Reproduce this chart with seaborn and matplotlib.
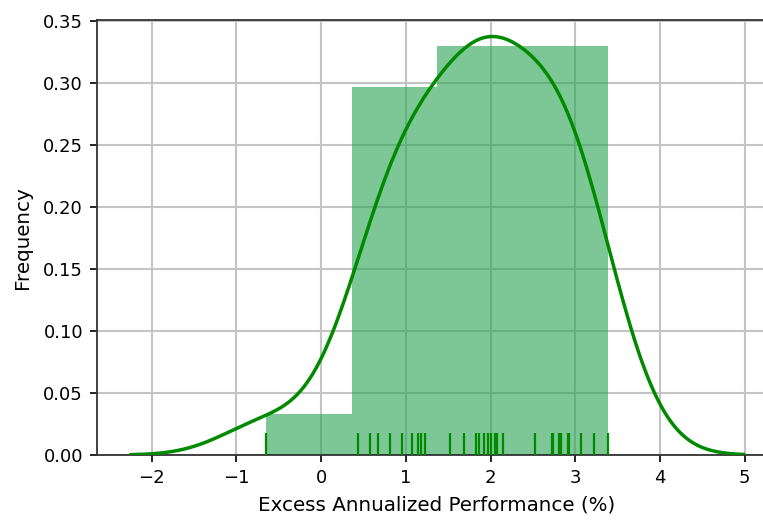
import numpy as np
import pandas as pd
import seaborn as sns
from matplotlib import pyplot as plt

# excess annualized performance (%) of each fund
perf = [-0.65, 0.44, 0.58, 0.67, 0.81, 0.96, 1.07, 1.14, 1.18, 1.22,
        1.52, 1.69, 1.83, 1.86, 1.92, 1.97, 2.00, 2.05, 2.08, 2.15,
        2.52, 2.72, 2.74, 2.81, 2.83, 2.91, 2.93, 3.07, 3.22, 3.39]
df = pd.DataFrame({'perf': perf})

line_color = '#008a00'
bar_color = '#26a350'

fig = plt.figure(figsize=(7.63, 5.2), dpi=100)
ax = fig.add_axes([97 / 763, 65 / 520, 680 / 763, 435 / 520])

# histogram, kde and rug like the old distplot
sns.histplot(data=df, x='perf', bins=4, stat='density', color=bar_color,
             alpha=0.6, edgecolor='none', linewidth=0, ax=ax, zorder=2)
# old distplot bandwidth was a bit wider than scipy's scott
sns.kdeplot(data=df, x='perf', color=line_color, linewidth=2.5, cut=3,
            bw_adjust=1.08, ax=ax, zorder=4)
sns.rugplot(data=df, x='perf', color=line_color, height=0.05,
            linewidth=1.6, ax=ax, zorder=3)

ax.set_xlim(-2.645, 5.38)
ax.set_ylim(0, 0.351)
ax.set_xticks(range(-2, 6))
ax.set_yticks(np.arange(0, 0.36, 0.05))
ax.yaxis.set_major_formatter(plt.FormatStrFormatter('%.2f'))
ax.grid(True, color='#c4c4c4', linewidth=1.5, zorder=0)
ax.set_axisbelow(True)
ax.tick_params(labelsize=13, length=5, width=1.2, pad=5)
for sp in ax.spines.values():
    sp.set_linewidth(1.3)
    sp.set_color('#333333')
ax.set_xlabel('Excess Annualized Performance (%)', fontsize=14.3, labelpad=6)
ax.set_ylabel('Frequency', fontsize=14.3, labelpad=8)

plt.savefig('out.png', dpi=100)
